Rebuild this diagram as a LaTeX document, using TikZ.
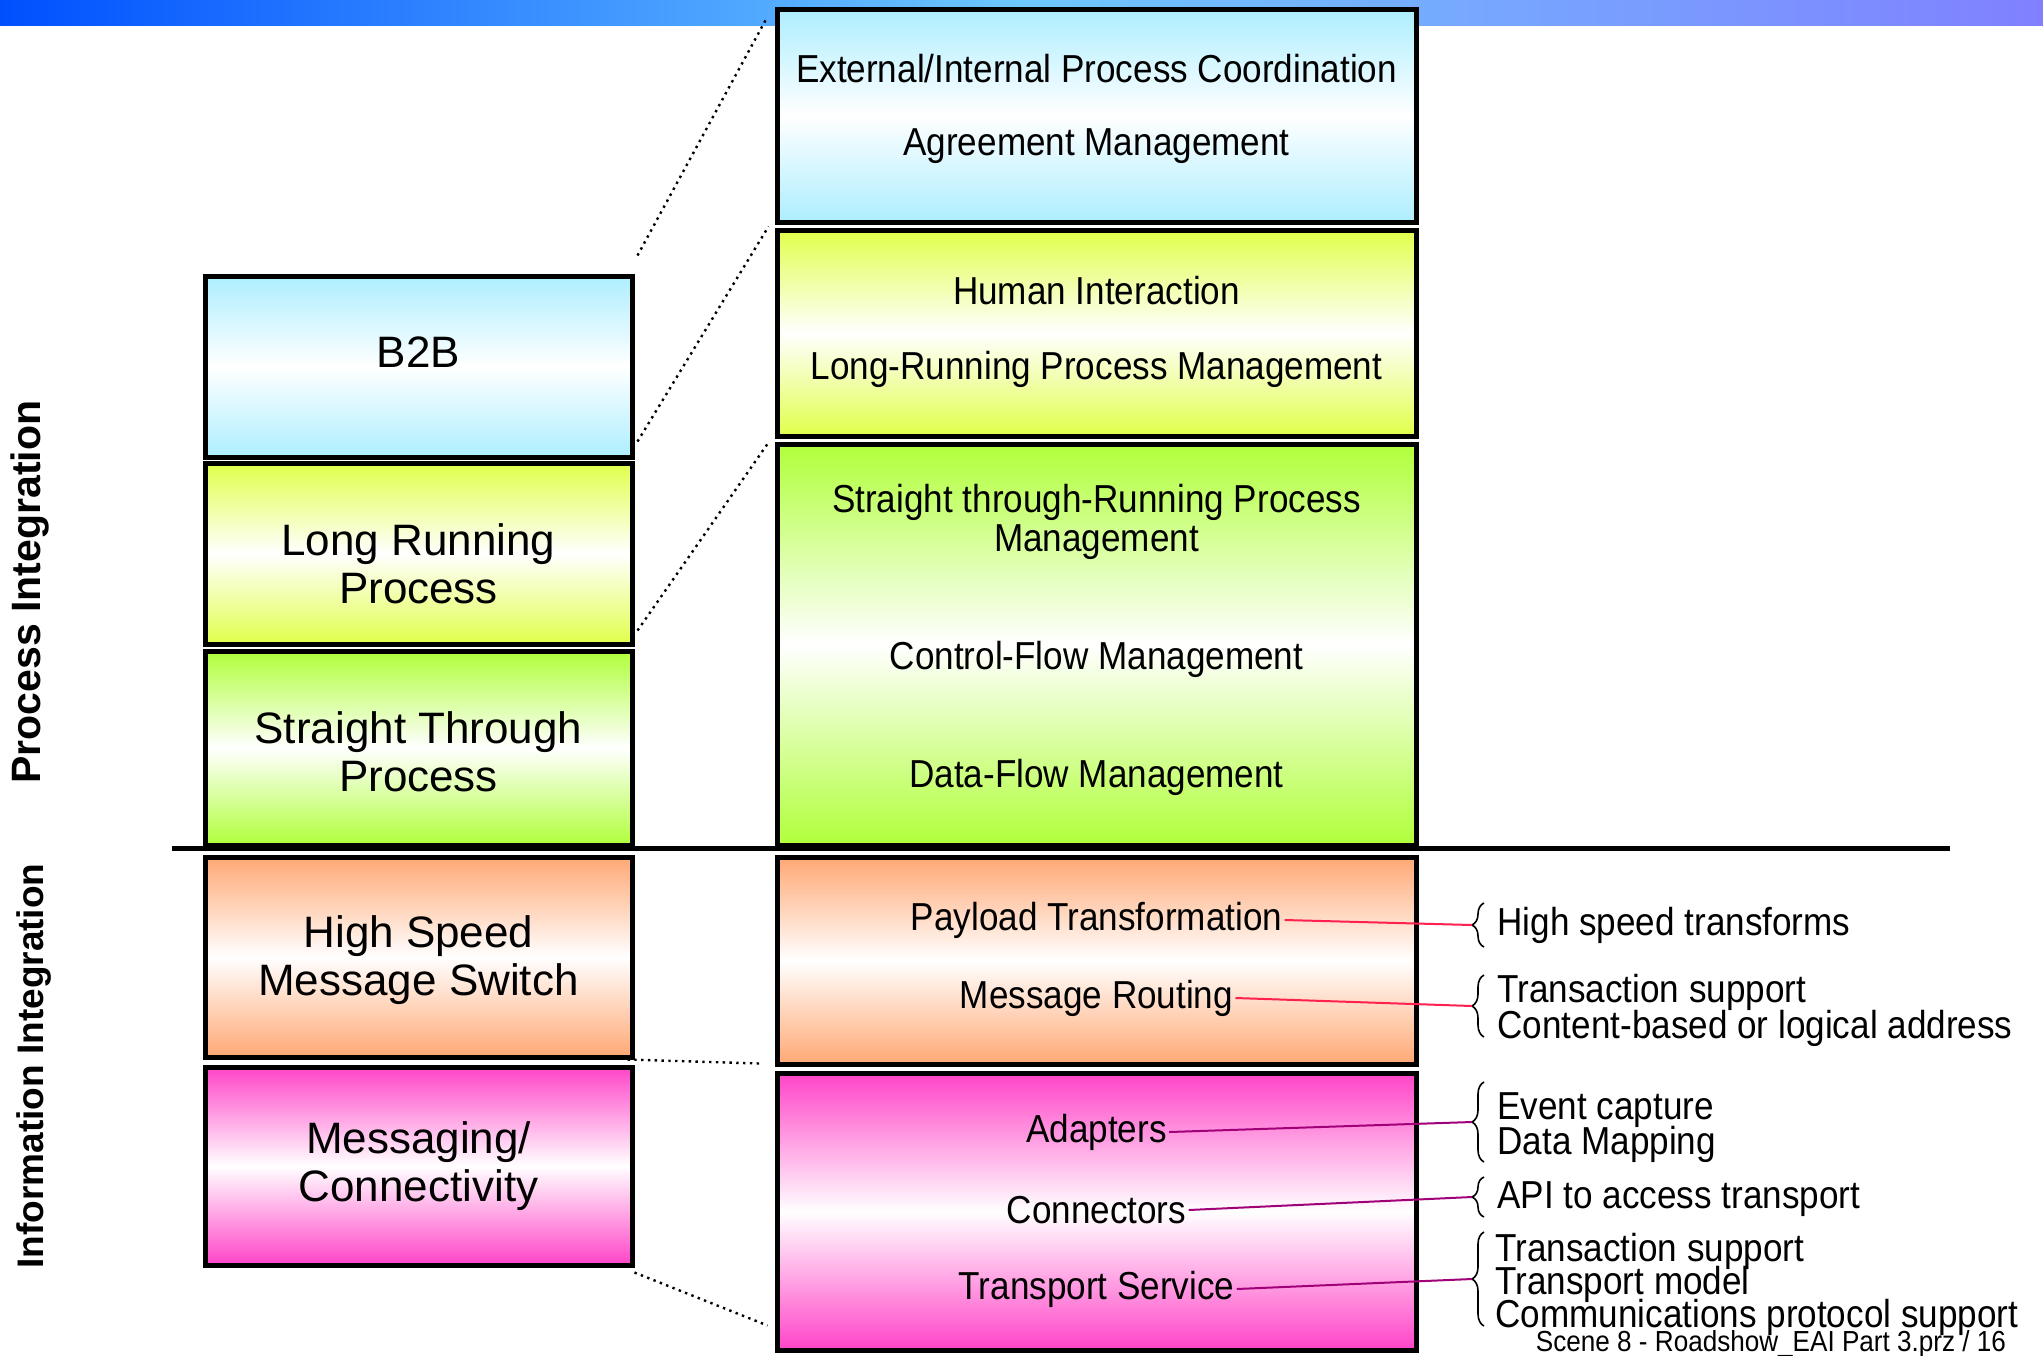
\documentclass[tikz,border=0pt]{standalone}
\usepackage{fontspec}
\setmainfont{Liberation Sans}
\newfontfamily\narrowsans{Liberation Sans}[FakeStretch=0.9]
\usetikzlibrary{calc}
\usetikzlibrary{decorations.pathreplacing}
\definecolor{barblue}{RGB}{0,80,255}
\definecolor{barcyan}{RGB}{110,200,255}
\definecolor{barviolet}{RGB}{128,128,255}
\definecolor{b2bcyan}{RGB}{173,238,255}
\definecolor{lrpyellow}{RGB}{224,255,74}
\definecolor{stpgreen}{RGB}{176,255,58}
\definecolor{hsorange}{RGB}{255,168,116}
\definecolor{mcpink}{RGB}{255,68,200}
\definecolor{linkred}{RGB}{255,32,80}
\definecolor{linkpurple}{RGB}{160,0,120}
\setlength{\lineskiplimit}{-20pt}

\begin{document}
\begin{tikzpicture}[x=0.5pt, y=-0.5pt,
  lbox/.style={draw, line width=2.5pt, inner sep=0pt, minimum width=213.5pt},
  rbox/.style={draw, line width=2.5pt, inner sep=0pt, minimum width=319.5pt},
  cyanfill/.style={top color=b2bcyan, bottom color=b2bcyan, middle color=white},
  yellowfill/.style={top color=lrpyellow, bottom color=lrpyellow, middle color=white},
  greenfill/.style={top color=stpgreen, bottom color=stpgreen, middle color=white},
  orangefill/.style={top color=hsorange, bottom color=hsorange, middle color=white},
  pinkfill/.style={top color=mcpink, bottom color=mcpink, middle color=white},
  ltext/.style={font=\fontsize{22}{24}\selectfont, align=center},
  rtext/.style={font=\narrowsans\fontsize{19.5}{19.5}\selectfont, align=center, inner sep=1pt},
  btext/.style={font=\narrowsans\fontsize{19.5}{#1}\selectfont, align=left, anchor=west, inner sep=0pt},
  brc/.style={decorate, decoration={brace, amplitude=6pt}, line width=0.8pt},
  zoomline/.style={line width=1.2pt, dash pattern=on 1.2pt off 2.2pt},
  redlink/.style={linkred, line width=1pt},
  purplelink/.style={linkpurple, line width=1pt},
  side/.style={rotate=90, font=\bfseries\fontsize{#1}{#1}\selectfont}]
  \useasboundingbox (0,0) rectangle (2043,1355);
  \fill[white] (0,0) rectangle (2043,1355);
  \shade[left color=barblue, right color=barviolet, middle color=barcyan] (0,0) rectangle (2043,25);

  \node[side=20.5] (procint) at (30,592) {Process Integration};
  \node[side=18.5] (infoint) at (34,1066) {Information Integration};

  \node[lbox, cyanfill, minimum height=90.5pt] (b2b) at (418.5,366.5) {};
  \node[lbox, yellowfill, minimum height=90.5pt] (lrp) at (418.5,553.5) {};
  \node[lbox, greenfill, minimum height=97pt] (stp) at (418.5,748) {};
  \node[lbox, orangefill, minimum height=100pt] (hsms) at (418.5,957) {};
  \node[lbox, pinkfill, minimum height=99pt] (msg) at (418.5,1166) {};

  \node[ltext] (b2b-t) at (418.5,352) {B2B};
  \node[ltext] (lrp-t) at (418.5,564) {Long Running\\Process};
  \node[ltext] (stp-t) at (418.5,752) {Straight Through\\Process};
  \node[ltext] (hsms-t) at (418.5,960) {High Speed\\Message Switch};
  \node[ltext] (msg-t) at (418.5,1166) {Messaging/\\Connectivity};

  \node[rbox, cyanfill, minimum height=106.5pt] (coordbox) at (1096.5,115.5) {};
  \node[rbox, yellowfill, minimum height=103pt] (humanbox) at (1096.5,333) {};
  \node[rbox, greenfill, minimum height=200.5pt] (flowbox) at (1096.5,644.5) {};
  \node[rbox, orangefill, minimum height=103.5pt] (payloadbox) at (1096.5,960.5) {};
  \node[rbox, pinkfill, minimum height=138.5pt] (transportbox) at (1096.5,1211.5) {};

  \node[rtext] (ext) at (1096.5,69) {External/Internal Process Coordination};
  \node[rtext] (agr) at (1096.5,146) {Agreement Management};
  \node[rtext] (hum) at (1096.5,291) {Human Interaction};
  \node[rtext] (lrpm) at (1096.5,369) {Long-Running Process Management};
  \node[rtext] (stpm) at (1096.5,522) {Straight through-Running Process\\Management};
  \node[rtext] (cfm) at (1096.5,659) {Control-Flow Management};
  \node[rtext] (dfm) at (1096.5,777) {Data-Flow Management};
  \node[rtext] (pay) at (1096.5,920) {Payload Transformation};
  \node[rtext] (rout) at (1096.5,998) {Message Routing};
  \node[rtext] (adap) at (1096.5,1132) {Adapters};
  \node[rtext] (conn) at (1096.5,1210) {Connectors};
  \node[rtext] (trans) at (1096.5,1289) {Transport Service};

  \draw[zoomline] ($(b2b.north east)+(3,-18)$) -- ($(coordbox.north west)+(-8,12)$);
  \draw[zoomline] ($(b2b.south east)+(3,-18)$) -- ($(coordbox.south west)+(-6,2)$);
  \draw[zoomline] ($(lrp.south east)+(3,-16)$) -- ($(humanbox.south west)+(-6,4)$);
  \draw[zoomline] ($(hsms.south east)+(-7,0)$) -- ($(payloadbox.south west)+(-15,-3)$);
  \draw[zoomline] ($(msg.south east)+(0,5)$) -- ($(transportbox.south west)+(-7,-27)$);

  \draw[line width=2.5pt] (172,848) -- (1950,848);

  \node[btext=18] (hst) at (1497,925) {High speed transforms};
  \node[btext=18] (tsca) at (1497,1010) {Transaction support\\Content-based or logical address};
  \node[btext=17.5] (ecdm) at (1497,1127.5) {Event capture\\Data Mapping};
  \node[btext=18] (api) at (1497,1199) {API to access transport};
  \node[btext=16.5] (ttc) at (1495,1284) {Transaction support\\Transport model\\Communications protocol support};

  \draw[brc] (1484,947) -- (1484,903);
  \draw[brc] (1484,1037) -- (1484,975);
  \draw[brc] (1484,1162) -- (1484,1082);
  \draw[brc] (1484,1217) -- (1484,1177);
  \draw[brc] (1484,1326) -- (1484,1232);
  \coordinate (tip1) at (1472,925);
  \coordinate (tip2) at (1472,1006);
  \coordinate (tip3) at (1472,1122);
  \coordinate (tip4) at (1472,1197);
  \coordinate (tip5) at (1472,1279);

  \draw[redlink] (pay.east) -- (tip1);
  \draw[redlink] (rout.east) -- (tip2);
  \draw[purplelink] (adap.east) -- (tip3);
  \draw[purplelink] (conn.east) -- (tip4);
  \draw[purplelink] (trans.east) -- (tip5);

  \node[font=\narrowsans\fontsize{14.5}{14.5}\selectfont, anchor=base] (scene) at (1771,1351) {Scene 8 - Roadshow\_EAI Part 3.prz / 16};
\end{tikzpicture}
\end{document}
